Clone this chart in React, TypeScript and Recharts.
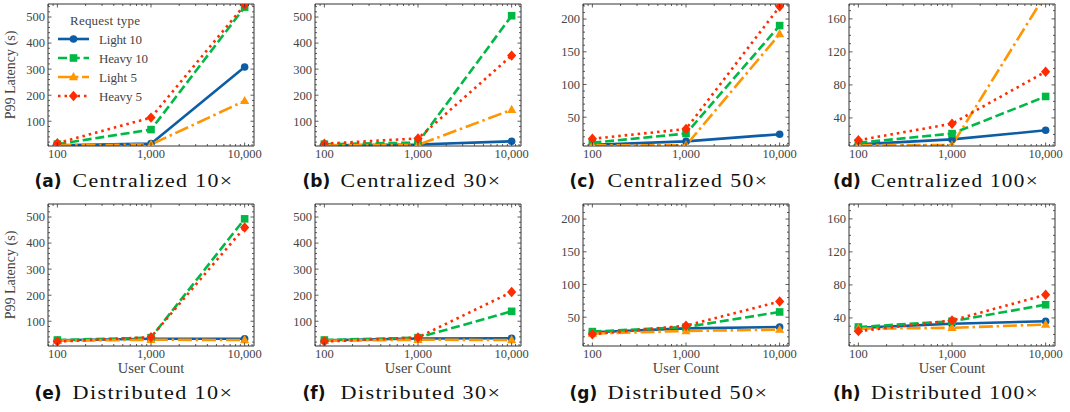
import { LineChart, Line, XAxis, YAxis } from "recharts";

// x values shared by every panel
const userCounts = [100, 1000, 10000];

const seriesNames = ["Light 10", "Heavy 10", "Light 5", "Heavy 5"];
const seriesColors = ["#0C5DA5", "#00B945", "#FF9500", "#FF2C00"];
const seriesDash = [undefined, "9 3.8", "14 3.8 2.5 3.8", "2.5 4"];
const seriesMarkers = ["circle", "square", "triangle", "diamond"];

// one row per series (Light 10, Heavy 10, Light 5, Heavy 5), values at 100 / 1,000 / 10,000 users
const centralized10 = [[8, 14, 308], [12, 68, 538], [7, 11, 178], [16, 114, 546]];
const centralized30 = [[8, 11, 23], [12, 18, 505], [7, 9, 144], [14, 34, 352]];
const centralized50 = [[8, 13, 24], [11, 25, 190], [7, 7, 177], [17, 32, 219]];
const centralized100 = [[8, 14, 25], [10, 21, 66], [7, 7, 190], [13, 33, 96]];
const distributed10 = [[27, 33, 33], [28, 37, 493], [25, 29, 28], [22, 39, 460]];
const distributed30 = [[27, 34, 35], [28, 37, 138], [25, 29, 28], [22, 38, 212]];
const distributed50 = [[27, 33, 35], [28, 35, 58], [25, 29, 31], [24, 37, 74]];
const distributed100 = [[28, 33, 36], [29, 36, 56], [27, 28, 32], [24, 37, 68]];

const panelLabels = ["(a)", "(b)", "(c)", "(d)", "(e)", "(f)", "(g)", "(h)"];
const panelTitles = [
  "Centralized 10×",
  "Centralized 30×",
  "Centralized 50×",
  "Centralized 100×",
  "Distributed 10×",
  "Distributed 30×",
  "Distributed 50×",
  "Distributed 100×",
];
const panelValues = [
  centralized10,
  centralized30,
  centralized50,
  centralized100,
  distributed10,
  distributed30,
  distributed50,
  distributed100,
];

// y axes are shared per column
const yDomains = [[5, 550], [5, 550], [6, 223], [6, 178]];
const yMajorTicks = [
  [100, 200, 300, 400, 500],
  [100, 200, 300, 400, 500],
  [50, 100, 150, 200],
  [40, 80, 120, 160],
];
const yMinorTicks = [
  [20, 40, 60, 80, 120, 140, 160, 180, 220, 240, 260, 280, 320, 340, 360, 380, 420, 440, 460, 480, 520, 540],
  [20, 40, 60, 80, 120, 140, 160, 180, 220, 240, 260, 280, 320, 340, 360, 380, 420, 440, 460, 480, 520, 540],
  [10, 20, 30, 40, 60, 70, 80, 90, 110, 120, 130, 140, 160, 170, 180, 190, 210, 220],
  [10, 20, 30, 50, 60, 70, 90, 100, 110, 130, 140, 150, 170],
];

const xDomain = [79.4, 12589];
const xMajorTicks = [100, 1000, 10000];
const xMinorTicks = [80, 90, 200, 300, 400, 500, 600, 700, 800, 900, 2000, 3000, 4000, 5000, 6000, 7000, 8000, 9000, 11000, 12000];

// layout
const plotLefts = [48, 315, 583, 849];
const plotTops = [4, 204];
const plotW = 206;
const plotH = 142;
const cellCenters = [134, 402, 669, 936];
const titleBaselines = [187, 399];
const padL = 45;
const padR = 22;
const padT = 6;
const padB = 18;

const spine = "#333";
const tickText = "#444";
const serif = "'Liberation Serif', 'Times New Roman', serif";

function BottomTick(props: any) {
  const { x, y, payload } = props;
  const major = xMajorTicks.includes(payload.value);
  return (
    <g>
      <line x1={x} x2={x} y1={y} y2={y - (major ? 3.5 : 2)} stroke={spine} strokeWidth={0.8} />
      {major && (
        <text x={x} y={y + 11.5} textAnchor="middle" fontFamily={serif} fontSize={12.5} fill={tickText}>
          {payload.value.toLocaleString("en-US")}
        </text>
      )}
    </g>
  );
}

function TopTick(props: any) {
  const { x, y, payload } = props;
  const major = xMajorTicks.includes(payload.value);
  return <line x1={x} x2={x} y1={y} y2={y + (major ? 3.5 : 2)} stroke={spine} strokeWidth={0.8} />;
}

function makeLeftTick(col: number) {
  return (props: any) => {
    const { x, y, payload } = props;
    const major = yMajorTicks[col].includes(payload.value);
    return (
      <g>
        <line x1={x} x2={x + (major ? 3.5 : 2)} y1={y} y2={y} stroke={spine} strokeWidth={0.8} />
        {major && (
          <text x={x - 3} y={y} dy="0.35em" textAnchor="end" fontFamily={serif} fontSize={12.5} fill={tickText}>
            {payload.value}
          </text>
        )}
      </g>
    );
  };
}

function makeRightTick(col: number) {
  return (props: any) => {
    const { x, y, payload } = props;
    const major = yMajorTicks[col].includes(payload.value);
    return <line x1={x} x2={x - (major ? 3.5 : 2)} y1={y} y2={y} stroke={spine} strokeWidth={0.8} />;
  };
}

function Marker({ shape, cx, cy, color }: { shape: string; cx: number; cy: number; color: string }) {
  if (shape === "circle") return <circle cx={cx} cy={cy} r={3.8} fill={color} />;
  if (shape === "square") return <rect x={cx - 3.8} y={cy - 3.8} width={7.6} height={7.6} fill={color} />;
  if (shape === "triangle")
    return <polygon points={`${cx},${cy - 5} ${cx - 4.6},${cy + 3.2} ${cx + 4.6},${cy + 3.2}`} fill={color} />;
  return <polygon points={`${cx},${cy - 5.2} ${cx + 4.6},${cy} ${cx},${cy + 5.2} ${cx - 4.6},${cy}`} fill={color} />;
}

function makeDot(s: number) {
  return (p: any) => {
    if (p.cx == null || p.cy == null) return <g key={`m${s}-${p.index}`} />;
    return (
      <g key={`m${s}-${p.index}`}>
        <Marker shape={seriesMarkers[s]} cx={p.cx} cy={p.cy} color={seriesColors[s]} />
      </g>
    );
  };
}

function Panel({ index }: { index: number }) {
  const col = index % 4;
  const row = Math.floor(index / 4);
  const values = panelValues[index];
  const data = userCounts.map((u, i) => ({
    users: u,
    s0: values[0][i],
    s1: values[1][i],
    s2: values[2][i],
    s3: values[3][i],
  }));
  const yTicks = [...yMajorTicks[col], ...yMinorTicks[col]].filter(
    (v) => v >= yDomains[col][0] && v <= yDomains[col][1]
  );
  const xTicks = [...xMajorTicks, ...xMinorTicks];

  // axes are 1px thick (a 0px axis is not drawn), so take that off the margins
  return (
    <div style={{ position: "absolute", left: plotLefts[col] - padL, top: plotTops[row] - padT }}>
      <LineChart
        width={plotW + padL + padR}
        height={plotH + padT + padB}
        data={data}
        margin={{ top: padT - 1, left: padL - 1, right: padR - 1, bottom: padB - 1 }}
      >
        <XAxis
          xAxisId="b"
          dataKey="users"
          type="number"
          scale="log"
          domain={xDomain}
          allowDataOverflow
          ticks={xTicks}
          interval={0}
          height={1}
          tickSize={0}
          tickMargin={0}
          tickLine={false}
          axisLine={{ stroke: spine, strokeWidth: 1 }}
          tick={BottomTick}
        />
        <XAxis
          xAxisId="t"
          orientation="top"
          dataKey="users"
          type="number"
          scale="log"
          domain={xDomain}
          allowDataOverflow
          ticks={xTicks}
          interval={0}
          height={1}
          tickSize={0}
          tickMargin={0}
          tickLine={false}
          axisLine={{ stroke: spine, strokeWidth: 1 }}
          tick={TopTick}
        />
        <YAxis
          yAxisId="l"
          type="number"
          domain={yDomains[col]}
          allowDataOverflow
          ticks={yTicks}
          interval={0}
          width={1}
          tickSize={0}
          tickMargin={0}
          tickLine={false}
          axisLine={{ stroke: spine, strokeWidth: 1 }}
          tick={makeLeftTick(col)}
        />
        <YAxis
          yAxisId="r"
          orientation="right"
          type="number"
          domain={yDomains[col]}
          allowDataOverflow
          ticks={yTicks}
          interval={0}
          width={1}
          tickSize={0}
          tickMargin={0}
          tickLine={false}
          axisLine={{ stroke: spine, strokeWidth: 1 }}
          tick={makeRightTick(col)}
        />
        {seriesNames.map((name, s) => (
          <Line
            key={name}
            xAxisId="b"
            yAxisId="l"
            type="linear"
            dataKey={`s${s}`}
            name={name}
            stroke={seriesColors[s]}
            strokeWidth={2.6}
            strokeDasharray={seriesDash[s]}
            dot={makeDot(s)}
            activeDot={false}
            isAnimationActive={false}
          />
        ))}
      </LineChart>
    </div>
  );
}

function Overlay() {
  const legendX = 58;
  const legendRows = [39, 58, 77, 96];
  const legendWidths = [43, 49, 38, 43];
  return (
    <svg width={1070} height={412} style={{ position: "absolute", left: 0, top: 0, pointerEvents: "none" }}>
      {panelTitles.map((title, i) => {
        const col = i % 4;
        const row = Math.floor(i / 4);
        const w = title.includes("100") ? 168 : 161;
        const start = cellCenters[col] - (27 + 11 + w) / 2;
        return (
          <g key={title}>
            <text x={start} y={titleBaselines[row]} fontFamily="'DejaVu Sans', sans-serif" fontWeight="bold" fontSize={17} fill="#111">
              {panelLabels[i]}
            </text>
            <text
              x={start + 38}
              y={titleBaselines[row]}
              fontFamily={serif}
              fontSize={19}
              letterSpacing={1.2}
              fill="#111"
              textLength={w}
              lengthAdjust="spacingAndGlyphs"
            >
              {title}
            </text>
          </g>
        );
      })}
      {plotTops.map((top) => (
        <text
          key={`yl${top}`}
          transform={`translate(15, ${top + plotH / 2}) rotate(-90)`}
          textAnchor="middle"
          fontFamily={serif}
          fontSize={14}
          fill={tickText}
        >
          P99 Latency (s)
        </text>
      ))}
      {plotLefts.map((left) => (
        <text
          key={`xl${left}`}
          x={left + plotW / 2}
          y={372.5}
          textAnchor="middle"
          fontFamily={serif}
          fontSize={14.5}
          fill={tickText}
        >
          User Count
        </text>
      ))}
      <text x={105} y={25} textAnchor="middle" fontFamily={serif} fontSize={13} fill={tickText} textLength={70} lengthAdjust="spacing">
        Request type
      </text>
      {seriesNames.map((name, s) => (
        <g key={name}>
          <line
            x1={legendX}
            x2={legendX + 31}
            y1={legendRows[s]}
            y2={legendRows[s]}
            stroke={seriesColors[s]}
            strokeWidth={2.6}
            strokeDasharray={seriesDash[s]}
          />
          <Marker shape={seriesMarkers[s]} cx={legendX + 15.5} cy={legendRows[s]} color={seriesColors[s]} />
          <text
            x={99}
            y={legendRows[s] + 4.5}
            fontFamily={serif}
            fontSize={13}
            fill={tickText}
            textLength={legendWidths[s]}
            lengthAdjust="spacing"
          >
            {name}
          </text>
        </g>
      ))}
    </svg>
  );
}

export default function App() {
  return (
    <div style={{ position: "absolute", left: 0, top: 0, width: 1070, height: 412, background: "#fff", overflow: "hidden" }}>
      {panelTitles.map((t, i) => (
        <Panel key={t} index={i} />
      ))}
      <Overlay />
    </div>
  );
}
